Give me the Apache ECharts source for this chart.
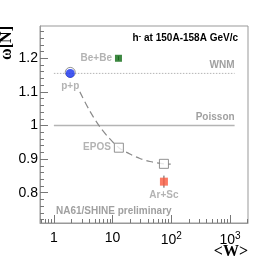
<!DOCTYPE html>
<html><head><meta charset="utf-8">
<script src="https://cdn.jsdelivr.net/npm/echarts@6/dist/echarts.min.js"></script>
<style>html,body{margin:0;padding:0;background:#fff}#c{width:276px;height:263px}</style>
</head><body><div id="c"></div>
<script>
// ---- data ----
const X_MIN = 0.58, X_MAX = 2030;
const Y_MIN = 0.71, Y_MAX = 1.296;
const xMajorTicks = [1, 10, 100, 1000];
const xMinorTicks = [0.6,0.7,0.8,0.9,2,3,4,5,6,7,8,9,20,30,40,50,60,70,80,90,200,300,400,500,600,700,800,900,2000];
const yMajorTicks = [0.8, 0.9, 1.0, 1.1, 1.2];
const yMinorTicks = [0.72,0.74,0.76,0.78,0.82,0.84,0.86,0.88,0.92,0.94,0.96,0.98,1.02,1.04,1.06,1.08,1.12,1.14,1.16,1.18,1.22,1.24,1.26,1.28];

const ppPoint = [1.9, 1.155];
const bebePoint = [12.6, 1.2];
const bebeErr = [12.6, 1.194, 1.206];
const arscPoint = [75, 0.833];
const arscErr = [75, 0.815, 0.851];
const eposW = [1.9, 12.8, 75];
const eposOmega = [1.158, 0.934, 0.886];
const curveW = [2.77, 4.1, 6.08, 9.0, 12.8, 19.7, 29.2, 43.4, 75, 98];
const curveOmega = [1.10, 1.043, 0.996, 0.960, 0.934, 0.915, 0.902, 0.893, 0.886, 0.885];
const wnmLineW = [1, 1200];
const wnmLevel = 1.155;
const poissonLineW = [1, 1200];
const poissonLevel = 1.0;

// ---- chart ----
const FONT = '"Liberation Sans", Arial, sans-serif';
const LABEL_GREY = '#a0a0a0';
const chart = echarts.init(document.getElementById('c'), null, {renderer: 'canvas'});

function errRender(params, api) {
  const p1 = api.coord([api.value(0), api.value(1)]);
  const p2 = api.coord([api.value(0), api.value(2)]);
  return {type: 'line', shape: {x1: p1[0], y1: p1[1], x2: p2[0], y2: p2[1]},
          style: {stroke: '#555', lineWidth: 1}};
}

const option = {
  animation: false,
  backgroundColor: '#fff',
  grid: {left: 40, right: 28, top: 26, bottom: 40, show: true, borderColor: '#999', borderWidth: 1, backgroundColor: 'transparent'},
  title: [
    {text: 'h{s|-} at 150A-158A GeV/c', right: 33, top: 27,
     textStyle: {fontFamily: FONT, fontWeight: 'bold', fontSize: 10, color: '#000',
       rich: {s: {fontFamily: FONT, fontWeight: 'bold', fontSize: 8, color: '#000', padding: [0, 0, 5, 0]}}}},
    {text: 'NA61/SHINE preliminary', left: 51, top: 201,
     textStyle: {fontFamily: FONT, fontWeight: 'bold', fontSize: 10, color: LABEL_GREY}}
  ],
  graphic: [
    {type: 'text', x: 7, y: 26, rotation: Math.PI / 2,
     style: {text: 'ω[N]', fill: '#000', font: 'bold 16px "Liberation Serif", serif', align: 'right', verticalAlign: 'middle'}},
    {type: 'text', x: 248, y: 252,
     style: {text: '<W>', fill: '#000', font: 'bold 16px "Liberation Serif", serif', align: 'right', verticalAlign: 'middle'}}
  ],
  xAxis: [
    {type: 'log', logBase: 10, min: X_MIN, max: X_MAX, position: 'bottom',
     axisLine: {show: true, lineStyle: {color: '#999', width: 1}},
     axisTick: {show: true, inside: true, length: 8, customValues: xMajorTicks, lineStyle: {color: '#777'}},
     axisLabel: {show: true, customValues: xMajorTicks, margin: 8, color: '#000', fontFamily: FONT, fontSize: 14,
       formatter: function (v) { if (v < 5) return '1'; if (v < 50) return '10'; return '10{s|' + Math.round(Math.log10(v)) + '}'; },
       rich: {s: {fontFamily: FONT, fontSize: 10, color: '#000', padding: [0, 0, 8, 0]}}},
     splitLine: {show: false}, minorTick: {show: false}},
    {type: 'log', logBase: 10, min: X_MIN, max: X_MAX, position: 'bottom', offset: 0,
     axisLine: {show: false},
     axisTick: {show: true, inside: true, length: 4, customValues: xMinorTicks, lineStyle: {color: '#777'}},
     axisLabel: {show: false}, splitLine: {show: false}}
  ],
  yAxis: [
    {type: 'value', min: Y_MIN, max: Y_MAX, position: 'left',
     axisLine: {show: true, lineStyle: {color: '#999', width: 1}},
     axisTick: {show: true, inside: true, length: 8, customValues: yMajorTicks, lineStyle: {color: '#777'}},
     axisLabel: {show: true, customValues: yMajorTicks, margin: 2, color: '#000', fontFamily: FONT, fontSize: 14,
       formatter: function (v) { return Math.abs(v - 1) < 1e-9 ? '1' : v.toFixed(1); }},
     splitLine: {show: false}},
    {type: 'value', min: Y_MIN, max: Y_MAX, position: 'left', offset: 0,
     axisLine: {show: false},
     axisTick: {show: true, inside: true, length: 4, customValues: yMinorTicks, lineStyle: {color: '#777'}},
     axisLabel: {show: false}, splitLine: {show: false}}
  ],
  series: [
    {type: 'line', name: 'Poisson', data: poissonLineW.map(w => [w, poissonLevel]), symbol: 'none',
     lineStyle: {color: '#b4b4b4', width: 1.5}, silent: true,
     endLabel: {show: true, formatter: 'Poisson', position: 'top', distance: 0, align: 'right', offset: [0, -8],
       fontFamily: FONT, fontWeight: 'bold', fontSize: 10, color: LABEL_GREY}},
    {type: 'line', name: 'WNM', data: wnmLineW.map(w => [w, wnmLevel]), symbol: 'none',
     lineStyle: {color: '#b4b4b4', width: 1, type: [1.5, 1.5]}, silent: true,
     endLabel: {show: true, formatter: 'WNM', position: 'top', distance: 0, align: 'right', offset: [0, -8],
       fontFamily: FONT, fontWeight: 'bold', fontSize: 10, color: LABEL_GREY}},
    {type: 'line', name: 'EPOS curve', data: curveW.map((w, i) => [w, curveOmega[i]]), symbol: 'none', smooth: 0.3,
     lineStyle: {color: '#8a8a8a', width: 1.2, type: [7, 4]}, silent: true},
    {type: 'custom', name: 'errors', renderItem: errRender, data: [bebeErr, arscErr], z: 3, silent: true},
    {type: 'scatter', name: 'EPOS', z: 4,
     data: eposW.map((w, i) => ({value: [w, eposOmega[i]],
        symbol: i === 0 ? 'circle' : 'rect', symbolSize: i === 0 ? 10 : 9,
        itemStyle: {color: i === 0 ? 'rgba(255,255,255,0)' : '#fff'},
        label: {show: i === 1, formatter: 'EPOS', position: 'left', distance: 3,
          fontFamily: FONT, fontWeight: 'bold', fontSize: 10, color: LABEL_GREY}})),
     itemStyle: {borderColor: '#777', borderWidth: 1}},
    {type: 'scatter', name: 'p+p', z: 5, data: [ppPoint], symbol: 'circle', symbolSize: 9,
     itemStyle: {color: '#1530ee'},
     label: {show: true, formatter: 'p+p', position: 'bottom', distance: 3,
       fontFamily: FONT, fontWeight: 'bold', fontSize: 10, color: LABEL_GREY}},
    {type: 'scatter', name: 'Be+Be', z: 5, data: [bebePoint], symbol: 'rect', symbolSize: 7,
     itemStyle: {color: '#0d6a12'},
     label: {show: true, formatter: 'Be+Be', position: 'left', distance: 3,
       fontFamily: FONT, fontWeight: 'bold', fontSize: 10, color: LABEL_GREY}},
    {type: 'scatter', name: 'Ar+Sc', z: 5, data: [arscPoint], symbol: 'rect', symbolSize: 8,
     itemStyle: {color: '#fa5a3e'},
     label: {show: true, formatter: 'Ar+Sc', position: 'bottom', distance: 5,
       fontFamily: FONT, fontWeight: 'bold', fontSize: 10, color: LABEL_GREY}}
  ]
};
chart.setOption(option);
</script>
</body></html>
